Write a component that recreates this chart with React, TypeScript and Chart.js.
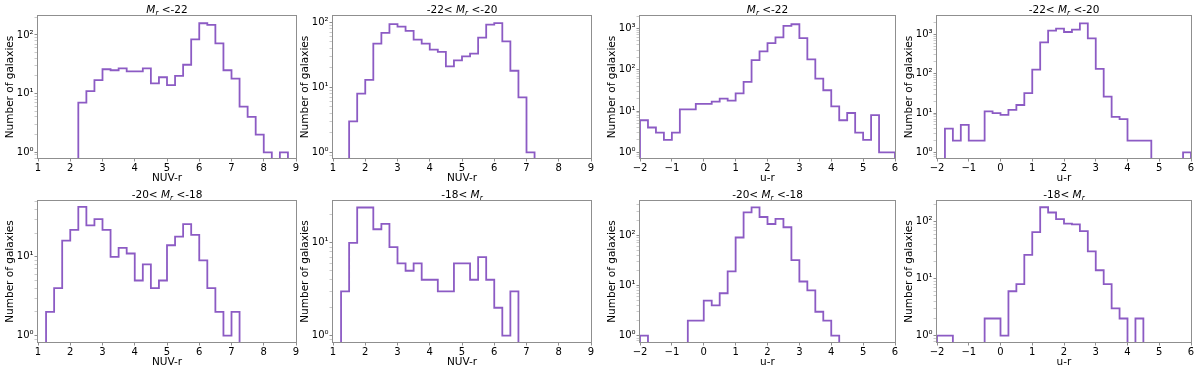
import React, { useEffect, useRef } from 'react';
import { Chart, registerables } from 'chart.js';

Chart.register(...registerables);

// ---------------- DATA ----------------
// Bin edges (bin width 0.25)
const nuvEdges = [1, 1.25, 1.5, 1.75, 2, 2.25, 2.5, 2.75, 3, 3.25, 3.5, 3.75, 4, 4.25, 4.5, 4.75, 5, 5.25, 5.5, 5.75, 6, 6.25, 6.5, 6.75, 7, 7.25, 7.5, 7.75, 8, 8.25, 8.5, 8.75, 9];
const urEdges = [-2, -1.75, -1.5, -1.25, -1, -0.75, -0.5, -0.25, 0, 0.25, 0.5, 0.75, 1, 1.25, 1.5, 1.75, 2, 2.25, 2.5, 2.75, 3, 3.25, 3.5, 3.75, 4, 4.25, 4.5, 4.75, 5, 5.25, 5.5, 5.75, 6];

// NUV-r counts per bin
const nuvMrLt22 = [0, 0, 0, 0, 0, 7, 11, 17, 26, 25, 27, 24, 24, 27, 15, 19, 14, 20, 31, 84, 158, 148, 72, 25, 18, 6, 4, 2, 1, 0, 1, 0];
const nuvMr22to20 = [0, 0, 3, 8, 13, 47, 69, 94, 86, 74, 54, 47, 38, 35, 21, 26, 30, 33, 58, 92, 97, 51, 18, 7, 1, 0, 0, 0, 0, 0, 0, 0];
const nuvMr20to18 = [0, 2, 4, 16, 22, 43, 25, 30, 22, 10, 13, 11, 5, 8, 4, 5, 14, 18, 26, 19, 9, 4, 2, 1, 2, 0, 0, 0, 0, 0, 0, 0];
const nuvMrGt18 = [0, 3, 10, 24, 24, 14, 16, 9, 6, 5, 6, 4, 4, 3, 3, 6, 6, 4, 7, 4, 2, 1, 3, 0, 0, 0, 0, 0, 0, 0, 0, 0];

// u-r counts per bin
const urMrLt22 = [6, 4, 3, 2, 3, 11, 11, 15, 15, 17, 20, 18, 27, 51, 171, 281, 445, 608, 1159, 1271, 586, 180, 61, 32, 13, 6, 9, 3, 2, 8, 1, 1];
const urMr22to20 = [0, 4, 2, 5, 2, 2, 11, 10, 9, 12, 16, 32, 127, 628, 1242, 1396, 1148, 1318, 1905, 794, 132, 26, 8, 7, 2, 2, 2, 0, 0, 0, 0, 1];
const urMr20to18 = [1, 0, 0, 0, 0, 0, 2, 2, 5, 4, 7, 19, 90, 285, 358, 230, 167, 211, 144, 32, 12, 8, 3, 2, 1, 0, 0, 0, 0, 0, 0, 0];
const urMrGt18 = [1, 1, 0, 0, 0, 0, 2, 2, 1, 6, 8, 26, 65, 178, 144, 110, 92, 89, 68, 30, 14, 8, 3, 2, 0, 2, 0, 0, 0, 0, 0, 0];

// Axis ranges
const nuvRange = [1, 9];
const urRange = [-2, 6];
const yMinima = [0.80, 0.82, 0.73, 0.72, 0.83, 0.855, 0.75, 0.775];
const yMaxima = [210, 125, 2014, 2924, 51, 28.2, 479, 229];

// Titles (text before / after the italic M_r)
const titlePre = ['', '-22< ', '', '-22< ', '-20< ', '-18< ', '-20< ', '-18< '];
const titlePost = [' <-22', ' <-20', ' <-22', ' <-20', ' <-18', '', ' <-18', ''];
const xLabels = ['NUV-r', 'NUV-r', 'u-r', 'u-r', 'NUV-r', 'NUV-r', 'u-r', 'u-r'];
const yLabel = 'Number of galaxies';

// ---------------- LAYOUT / STYLE ----------------
const colLeft = [38, 333, 640, 937];
const colWidth = [258, 258, 255, 254];
const rowTop = [16, 201];
const rowHeight = [142, 141];
const Y_AXIS_W = 40;
const X_AXIS_H = 30;
const TOP_PAD = 16;
const RIGHT_PAD = 6;
const LINE_COLOR = '#8c5bc4';
const SPINE_COLOR = '#8f8f8f';
const FONT = '"DejaVu Sans", "Liberation Sans", sans-serif';
const FLOOR = 1e-3; // empty bins drop below the log axis

const panelCounts = [nuvMrLt22, nuvMr22to20, urMrLt22, urMr22to20, nuvMr20to18, nuvMrGt18, urMr20to18, urMrGt18];
const panelEdges = [nuvEdges, nuvEdges, urEdges, urEdges, nuvEdges, nuvEdges, urEdges, urEdges];
const panelXRange = [nuvRange, nuvRange, urRange, urRange, nuvRange, nuvRange, urRange, urRange];

const SUP: Record<string, string> = { '0': '⁰', '1': '¹', '2': '²', '3': '³', '4': '⁴', '-': '⁻' };

function stepPoints(edges: number[], counts: number[]) {
  const v = (c: number) => (c > 0 ? c : FLOOR);
  const pts: { x: number; y: number }[] = [{ x: edges[0], y: FLOOR }];
  counts.forEach((c, i) => pts.push({ x: edges[i], y: v(c) }));
  const last = counts.length - 1;
  pts.push({ x: edges[edges.length - 1], y: v(counts[last]) });
  pts.push({ x: edges[edges.length - 1], y: FLOOR });
  return pts;
}

const titlePlugin = {
  id: 'panelTitle',
  afterDraw(chart: any, _args: any, opts: any) {
    const { ctx, chartArea } = chart;
    const size = 10.5;
    const segs = [
      { t: opts.pre, f: `${size}px ${FONT}`, dy: 0 },
      { t: 'M', f: `italic ${size}px ${FONT}`, dy: 0 },
      { t: 'r', f: `italic ${size * 0.7}px ${FONT}`, dy: size * 0.2 },
      { t: opts.post, f: `${size}px ${FONT}`, dy: 0 },
    ];
    ctx.save();
    let total = 0;
    const widths = segs.map((s) => {
      ctx.font = s.f;
      const w = ctx.measureText(s.t).width;
      total += w;
      return w;
    });
    let x = (chartArea.left + chartArea.right) / 2 - total / 2;
    const y = chartArea.top - 3;
    ctx.fillStyle = '#000';
    ctx.textBaseline = 'alphabetic';
    ctx.textAlign = 'left';
    segs.forEach((s, i) => {
      ctx.font = s.f;
      ctx.fillText(s.t, x, y + s.dy);
      x += widths[i];
    });
    ctx.restore();
  },
};

const framePlugin = {
  id: 'frame',
  afterDatasetsDraw(chart: any) {
    const { ctx, chartArea } = chart;
    ctx.save();
    ctx.strokeStyle = SPINE_COLOR;
    ctx.lineWidth = 1;
    const l = Math.round(chartArea.left) - 0.5;
    const t = Math.round(chartArea.top) - 0.5;
    const r = Math.round(chartArea.right) + 0.5;
    const b = Math.round(chartArea.bottom) + 0.5;
    ctx.strokeRect(l, t, r - l, b - t);
    ctx.restore();
  },
};

function fmtX(v: number) {
  return v < 0 ? '\u2212' + Math.abs(v) : String(v);
}

function Panel({ idx }: { idx: number }) {
  const ref = useRef<HTMLCanvasElement>(null);
  const col = idx % 4;
  const row = Math.floor(idx / 4);
  const pw = colWidth[col];
  const ph = rowHeight[row];
  const W = pw + Y_AXIS_W + RIGHT_PAD;
  const H = ph + TOP_PAD + X_AXIS_H;

  useEffect(() => {
    if (!ref.current) return;
    const yMin = yMinima[idx];
    const yMax = yMaxima[idx];
    const chart = new Chart(ref.current, {
      type: 'line',
      data: {
        datasets: [
          {
            data: stepPoints(panelEdges[idx], panelCounts[idx]),
            borderColor: LINE_COLOR,
            borderWidth: 1.8,
            pointRadius: 0,
            stepped: 'before',
            fill: false,
            tension: 0,
            clip: 0,
            borderJoinStyle: 'miter',
          } as any,
        ],
      },
      options: {
        animation: false,
        responsive: false,
        devicePixelRatio: 1,
        events: [],
        layout: { padding: { top: TOP_PAD, right: RIGHT_PAD, left: 0, bottom: 0 } },
        plugins: {
          legend: { display: false },
          tooltip: { enabled: false },
          panelTitle: { pre: titlePre[idx], post: titlePost[idx] },
        } as any,
        scales: {
          x: {
            type: 'linear',
            min: panelXRange[idx][0],
            max: panelXRange[idx][1],
            bounds: 'data',
            afterFit: (s: any) => {
              s.height = X_AXIS_H;
            },
            ticks: {
              stepSize: 1,
              autoSkip: false,
              maxRotation: 0,
              padding: 1,
              color: '#000',
              font: { family: FONT, size: 10 },
              callback: (v: any) => fmtX(Number(v)),
            },
            grid: {
              display: true,
              drawOnChartArea: false,
              drawTicks: true,
              tickLength: 3.5,
              tickColor: SPINE_COLOR,
              tickWidth: 1,
            },
            border: { display: false },
            title: {
              display: true,
              text: xLabels[idx],
              color: '#000',
              font: { family: FONT, size: 10.5 },
              padding: { top: 0, bottom: 3.2 },
            },
          },
          y: {
            type: 'logarithmic',
            min: yMin,
            max: yMax,
            bounds: 'data',
            afterFit: (s: any) => {
              s.width = Y_AXIS_W;
            },
            afterBuildTicks: (s: any) => {
              const ticks: { value: number; major: boolean }[] = [];
              const k0 = Math.floor(Math.log10(yMin));
              const k1 = Math.ceil(Math.log10(yMax));
              for (let k = k0; k <= k1; k++) {
                for (let m = 1; m <= 9; m++) {
                  const v = m * Math.pow(10, k);
                  if (v >= yMin && v <= yMax) ticks.push({ value: v, major: m === 1 });
                }
              }
              s.ticks = ticks;
            },
            ticks: {
              autoSkip: false,
              padding: 1,
              color: '#000',
              font: { family: FONT, size: 10 },
              callback: (v: any) => {
                const val = Number(v);
                const e = Math.round(Math.log10(val));
                if (Math.abs(val - Math.pow(10, e)) > 1e-9 * val) return '';
                return '10' + String(e).split('').map((c) => SUP[c] || c).join('');
              },
            },
            grid: {
              display: true,
              drawOnChartArea: false,
              drawTicks: true,
              tickLength: 3.5,
              tickColor: (c: any) => (c.tick && c.tick.major ? SPINE_COLOR : '#b5b5b5'),
              tickWidth: (c: any) => (c.tick && c.tick.major ? 1 : 0.7),
            } as any,
            border: { display: false },
            title: {
              display: true,
              text: yLabel,
              color: '#000',
              font: { family: FONT, size: 10.5 },
              padding: { top: 5.7, bottom: 0 },
            },
          },
        },
      } as any,
      plugins: [titlePlugin, framePlugin],
    });
    return () => chart.destroy();
  }, [idx]);

  return (
    <canvas
      ref={ref}
      width={W}
      height={H}
      style={{
        position: 'absolute',
        left: colLeft[col] - Y_AXIS_W,
        top: rowTop[row] - TOP_PAD,
        width: W,
        height: H,
      }}
    />
  );
}

export default function App() {
  return (
    <div
      style={{
        position: 'fixed',
        left: 0,
        top: 0,
        width: 1200,
        height: 373,
        overflow: 'hidden',
        background: '#fff',
      }}
    >
      {[0, 1, 2, 3, 4, 5, 6, 7].map((i) => (
        <Panel key={i} idx={i} />
      ))}
    </div>
  );
}
